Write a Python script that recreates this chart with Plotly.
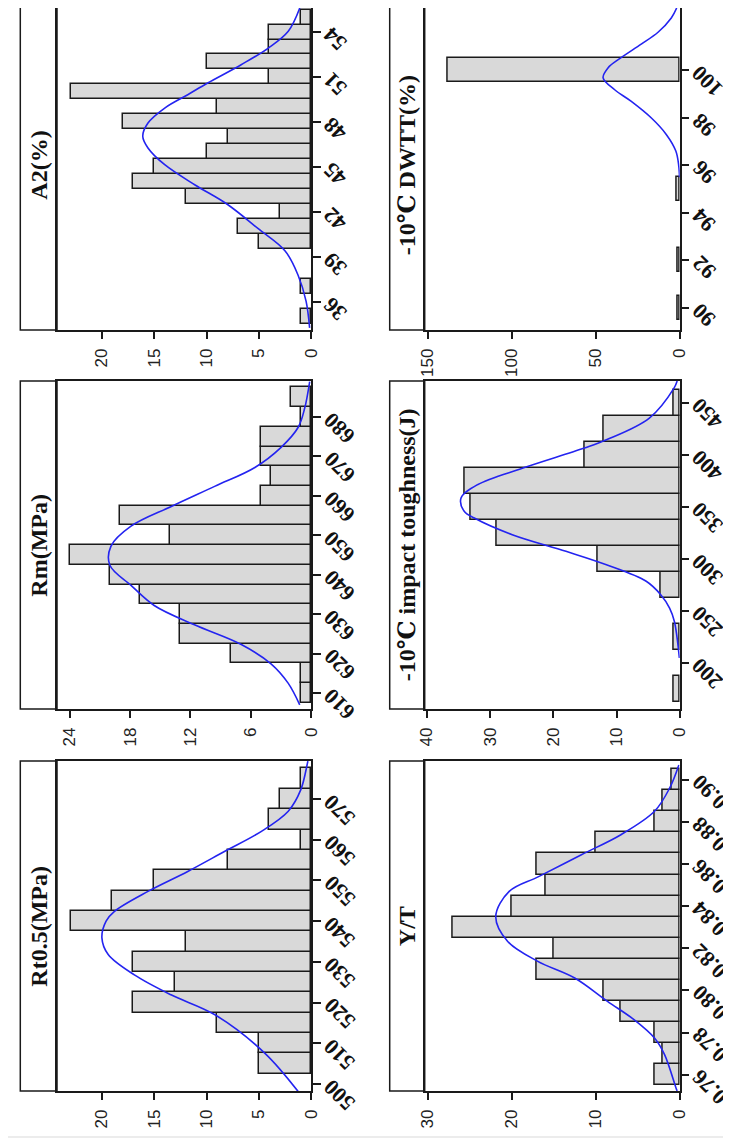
import math
import plotly.graph_objects as go

W, H = 731, 1138

# ---------------- data ----------------
# Rt0.5 (MPa)
rt_centers = [505, 510, 515, 520, 525, 530, 535, 540, 545, 550, 555, 560, 565, 570, 575]
rt_counts = [5, 5, 9, 17, 13, 17, 12, 23, 19, 15, 8, 1, 4, 3, 1]
rt_curve_v = [498.2, 507.6, 517.0, 521.9, 526.8, 531.8, 535.9, 540.0, 542.4, 547.3, 552.2, 557.1, 562.0, 567.0, 572.3, 578.4, 579.3]
rt_curve_c = [1.27, 4.45, 9.2, 13.4, 16.9, 19.4, 20.0, 19.6, 18.8, 15.6, 11.8, 8.3, 4.8, 2.2, 1.0, 0.4, 0.33]
rt_ticks = [500, 510, 520, 530, 540, 550, 560, 570]
rt_count_ticks = [0, 5, 10, 15, 20]

# Rm (MPa)
rm_centers = [610, 615, 620, 625, 630, 635, 640, 645, 650, 655, 660, 665, 670, 675, 680, 685]
rm_counts = [1, 1, 8, 13, 13, 17, 20, 24, 14, 19, 5, 4, 5, 5, 1, 2]
rm_curve_v = [607.0, 612.5, 617.4, 622.3, 627.3, 632.2, 637.3, 642.4, 647.2, 652.3, 657.3, 662.4, 667.2, 672.3, 677.4, 682.2, 689.0]
rm_curve_c = [1.15, 2.3, 4.0, 6.95, 11.6, 15.6, 17.9, 20.0, 19.9, 17.9, 13.9, 9.6, 5.6, 3.0, 1.3, 0.66, 0.16]
rm_ticks = [610, 620, 630, 640, 650, 660, 670, 680]
rm_count_ticks = [0, 6, 12, 18, 24]

# A2 (%)
a2_centers = [35, 37, 40, 41, 42, 43, 44, 45, 46, 47, 48, 49, 50, 51, 52, 53, 54, 55]
a2_counts = [1, 1, 5, 7, 3, 12, 17, 15, 10, 8, 18, 9, 23, 4, 10, 4, 4, 1]
a2_curve_v = [34.27, 36.05, 37.8, 39.4, 40.9, 42.5, 43.8, 45.15, 46.27, 47.05, 47.93, 48.93, 49.82, 50.6, 51.82, 52.93, 54.05, 55.6]
a2_curve_c = [0.16, 0.5, 1.27, 2.5, 5.1, 8.0, 11.1, 14.0, 15.6, 16.1, 15.6, 14.0, 11.8, 9.9, 6.7, 4.1, 2.2, 1.1]
a2_ticks = [36, 39, 42, 45, 48, 51, 54]
a2_count_ticks = [0, 5, 10, 15, 20]

# Y/T
yt_centers = [0.76, 0.77, 0.78, 0.79, 0.80, 0.81, 0.82, 0.83, 0.84, 0.85, 0.86, 0.87, 0.88, 0.89, 0.90]
yt_counts = [3, 2, 3, 7, 9, 17, 15, 27, 20, 16, 17, 10, 3, 2, 1]
yt_curve_v = [0.7523, 0.7537, 0.7695, 0.7774, 0.786, 0.7948, 0.8059, 0.8138, 0.8233, 0.835, 0.847, 0.854, 0.8644, 0.8739, 0.885, 0.896, 0.907]
yt_curve_c = [0.3, 0.44, 1.8, 3.0, 5.4, 8.6, 12.5, 16.9, 20.5, 21.9, 20.3, 16.8, 11.7, 7.0, 3.0, 1.2, 0.1]
yt_ticks = [0.76, 0.78, 0.80, 0.82, 0.84, 0.86, 0.88, 0.90]
yt_tick_labels = ["0.76", "0.78", "0.80", "0.82", "0.84", "0.86", "0.88", "0.90"]
yt_count_ticks = [0, 10, 20, 30]

# -10 C impact toughness (J)
it_centers = [175, 225, 275, 300, 325, 350, 375, 400, 425, 450]
it_counts = [1, 1, 3, 13, 29, 33, 34, 15, 12, 1]
it_curve_v = [204.8, 240.0, 252.9, 265.7, 278.6, 294.5, 307.4, 323.4, 339.4, 345.9, 358.7, 371.5, 387.5, 406.7, 414.7, 435.6, 464.4, 471.2]
it_curve_c = [0.05, 0.84, 1.6, 3.0, 5.3, 11.6, 18.0, 26.5, 32.5, 34.1, 34.6, 32.0, 24.8, 15.1, 11.6, 4.8, 0.9, 0.4]
it_ticks = [200, 250, 300, 350, 400, 450]
it_count_ticks = [0, 10, 20, 30, 40]

# -10 C DWTT (%)
dw_centers = [90, 92, 95, 100]
dw_counts = [1, 1, 2, 138]
dw_curve_v = [95.5, 96.0, 96.6, 97.3, 98.0, 98.7, 99.18, 99.68, 100.1, 100.5, 101.1, 101.6, 102.2, 102.62]
dw_curve_c = [0.1, 0.6, 2.3, 8.0, 17.0, 29.0, 38.7, 45.6, 42.7, 35.5, 22.9, 12.9, 5.0, 1.8]
dw_ticks = [90, 92, 94, 96, 98, 100]
dw_count_ticks = [0, 50, 100, 150]

# ---------------- layout geometry (pixels) ----------------
cols = [dict(box=12.3, strip=49.0, axis=303.3), dict(box=381.7, strip=416.7, axis=671.7)]
rows = [dict(top=-8, bottom=322), dict(top=373, bottom=701), dict(top=753, bottom=1083)]

panels = [
    dict(title="Rt0.5(MPa)", col=0, row=2, centers=rt_centers, counts=rt_counts, bw=5,
         cv=rt_curve_v, cc=rt_curve_c, vt=rt_ticks, vl=[str(v) for v in rt_ticks],
         ct=rt_count_ticks, crange=24.29, vrange=[498.28, 579.33]),
    dict(title="Rm(MPa)", col=0, row=1, centers=rm_centers, counts=rm_counts, bw=5,
         cv=rm_curve_v, cc=rm_curve_c, vt=rm_ticks, vl=[str(v) for v in rm_ticks],
         ct=rm_count_ticks, crange=25.25, vrange=[605.94, 689.13]),
    dict(title="A2(%)", col=0, row=0, centers=a2_centers, counts=a2_counts, bw=1,
         cv=a2_curve_v, cc=a2_curve_c, vt=a2_ticks, vl=[str(v) for v in a2_ticks],
         ct=a2_count_ticks, crange=24.29, vrange=[34.13, 55.6]),
    dict(title="Y/T", col=1, row=2, centers=yt_centers, counts=yt_counts, bw=0.01,
         cv=yt_curve_v, cc=yt_curve_c, vt=yt_ticks, vl=yt_tick_labels,
         ct=yt_count_ticks, crange=30.36, vrange=[0.75226, 0.90887]),
    dict(title="-10℃ impact toughness(J)", col=1, row=1, centers=it_centers, counts=it_counts, bw=25,
         cv=it_curve_v, cc=it_curve_c, vt=it_ticks, vl=[str(v) for v in it_ticks],
         ct=it_count_ticks, crange=40.35, vrange=[155.8, 471.2]),
    dict(title="-10℃ DWTT(%)", col=1, row=0, centers=dw_centers, counts=dw_counts, bw=1,
         cv=dw_curve_v, cc=dw_curve_c, vt=dw_ticks, vl=[str(v) for v in dw_ticks],
         ct=dw_count_ticks, crange=151.8, vrange=[89.07, 102.62]),
]

INK = "#1a1a1a"
SERIF = "Liberation Serif, Times New Roman, DejaVu Serif, serif"
SANS = "Liberation Sans, Arial, DejaVu Sans, sans-serif"

fig = go.Figure()
layout = dict(width=W, height=H, margin=dict(l=0, r=0, t=0, b=0),
              paper_bgcolor="white", plot_bgcolor="white", showlegend=False,
              bargap=0)
shapes = []
annotations = []

# light grey band at the very bottom of the picture
shapes.append(dict(type="rect", xref="paper", yref="paper", x0=0, x1=1,
                   y0=0, y1=(H - 1128) / H, fillcolor="#ececec", line=dict(width=0),
                   layer="below"))

for i, p in enumerate(panels, start=1):
    c = cols[p["col"]]
    r = rows[p["row"]]
    xd = [c["strip"] / W, c["axis"] / W]
    ytop = min(1.0, 1 - r["top"] / H)
    yd = [1 - r["bottom"] / H, ytop]
    xa = "x" if i == 1 else f"x{i}"
    ya = "y" if i == 1 else f"y{i}"
    xk = "xaxis" if i == 1 else f"xaxis{i}"
    yk = "yaxis" if i == 1 else f"yaxis{i}"

    fig.add_trace(go.Bar(y=p["centers"], x=p["counts"], orientation="h", width=p["bw"],
                         marker=dict(color="#d9d9d9", line=dict(color=INK, width=1.5)),
                         xaxis=xa, yaxis=ya, hoverinfo="skip"))
    fig.add_trace(go.Scatter(x=p["cc"], y=p["cv"], mode="lines",
                             line=dict(color="#2424f0", width=1.6, shape="spline", smoothing=1.0),
                             xaxis=xa, yaxis=ya, hoverinfo="skip"))

    layout[xk] = dict(domain=xd, range=[p["crange"], 0], anchor=ya,
                      tickmode="array", tickvals=p["ct"], ticktext=[str(v) for v in p["ct"]],
                      tickangle=-90, ticks="outside", ticklen=7, tickwidth=1.5, tickcolor=INK,
                      showline=True, linecolor=INK, linewidth=1.5,
                      mirror=(p["row"] != 0), showgrid=False, zeroline=False,
                      tickfont=dict(family=SANS, size=17, color="#222222"),
                      ticklabelstandoff=3, automargin=False, fixedrange=True)
    layout[yk] = dict(domain=yd, range=p["vrange"], anchor=xa, side="right",
                      tickmode="array", tickvals=p["vt"], showticklabels=False,
                      ticks="outside", ticklen=8, tickwidth=1.5, tickcolor=INK,
                      showline=True, linecolor=INK, linewidth=1.5, mirror=True,
                      showgrid=False, zeroline=False, automargin=False, fixedrange=True)

    # strip box with title
    y1s = 1 - r["top"] / H
    shapes.append(dict(type="rect", xref="paper", yref="paper",
                       x0=c["box"] / W, x1=c["strip"] / W, y0=yd[0], y1=y1s,
                       line=dict(color=INK, width=1.5), fillcolor="rgba(0,0,0,0)"))
    annotations.append(dict(xref="paper", yref="paper",
                            x=(c["box"] + c["strip"]) / 2 / W,
                            y=1 - (r["top"] + r["bottom"]) / 2 / H,
                            text=f"<b>{p['title']}</b>", textangle=-90, showarrow=False,
                            xanchor="center", yanchor="middle",
                            font=dict(family=SERIF, size=24, color="#111111")))

    # slanted value-axis tick labels (end of text at the tick)
    for v, lab in zip(p["vt"], p["vl"]):
        L = sum(5.5 if ch == "." else 11.0 for ch in lab)
        off = L / (2 * math.sqrt(2))
        annotations.append(dict(xref="paper", yref=ya, x=(c["axis"] + 16 + off) / W, y=v,
                                yshift=-(off - 1), text=f"<b>{lab}</b>", textangle=-135,
                                showarrow=False, xanchor="center", yanchor="middle",
                                font=dict(family=SERIF, size=22, color="#111111")))

layout["shapes"] = shapes
layout["annotations"] = annotations
fig.update_layout(**layout)
fig.write_html("out.html")
